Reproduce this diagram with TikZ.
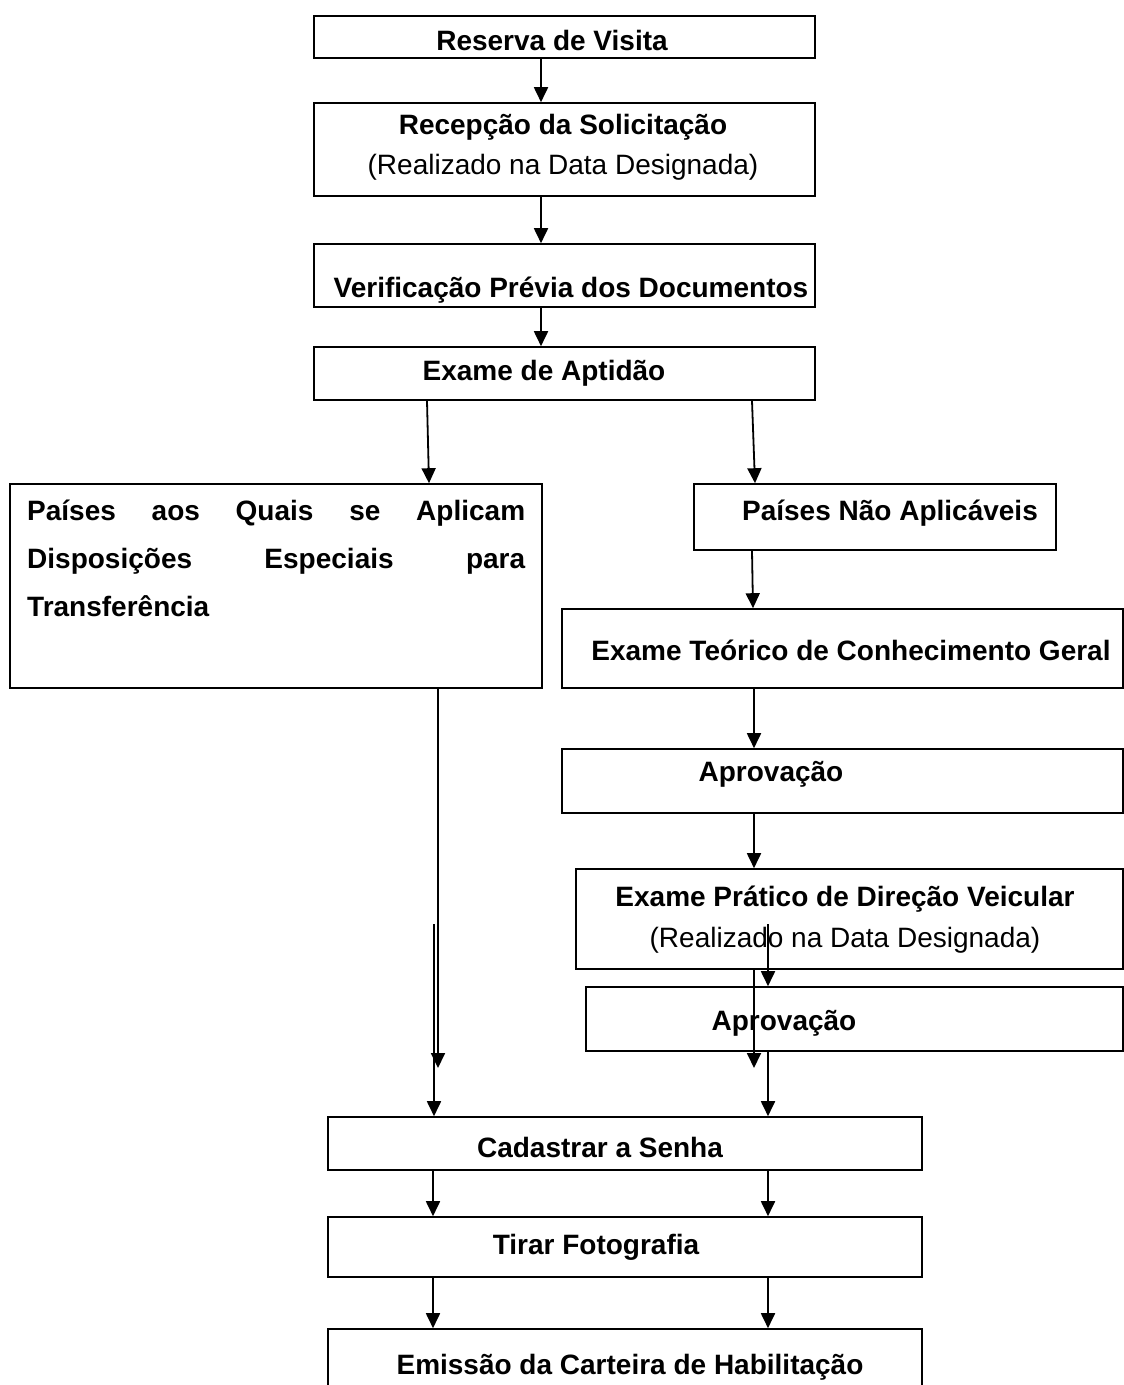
\documentclass[tikz,border=0pt]{standalone}
\usepackage{fontspec}
\setmainfont{Liberation Sans}
\usetikzlibrary{arrows.meta}
\tikzstyle{box} = [rectangle, draw=black, line width=1.6pt, inner sep=0pt]
\tikzstyle{txt} = [font=\fontsize{28}{34}\selectfont\bfseries, inner sep=0pt]
\tikzstyle{note} = [font=\fontsize{28}{34}\selectfont, inner sep=0pt]
\tikzstyle{arrow} = [line width=1.8pt, -{Triangle[length=15pt,width=14pt]}]

\begin{document}
\begin{tikzpicture}[x=1pt, y=-1pt]

		\clip (0,0) rectangle (1124,1385);

		% boxes
		\node (reserva) [box, minimum width=501pt, minimum height=42pt] at (564.5,37) {};
		\node (recepcao) [box, minimum width=501pt, minimum height=93pt] at (564.5,149.5) {};
		\node (verif) [box, minimum width=501pt, minimum height=63pt] at (564.5,275.5) {};
		\node (aptidao) [box, minimum width=501pt, minimum height=53pt] at (564.5,373.5) {};
		\node (especial) [box, minimum width=532pt, minimum height=204pt] at (276,586) {};
		\node (naoaplic) [box, minimum width=362pt, minimum height=66pt] at (875,517) {};
		\node (teorico) [box, minimum width=561pt, minimum height=79pt] at (842.5,648.5) {};
		\node (aprov1) [box, minimum width=561pt, minimum height=64pt] at (842.5,781) {};
		\node (pratico) [box, minimum width=547pt, minimum height=100pt] at (849.5,919) {};
		\node (aprov2) [box, minimum width=537pt, minimum height=64pt] at (854.5,1019) {};
		\node (senha) [box, minimum width=594pt, minimum height=53pt] at (625,1143.5) {};
		\node (foto) [box, minimum width=594pt, minimum height=60pt] at (625,1247) {};
		\node (emissao) [box, minimum width=594pt, minimum height=71pt] at (625,1364.5) {};

		% texts
		\node (reservaTxt) [txt] at (552,40) {Reserva de Visita};
		\node (recepcaoTxt) [txt, align=center, font=\fontsize{28}{40}\selectfont] at (563,147) {\textbf{Recepção da Solicitação}\\(Realizado na Data Designada)};
		\node (verifTxt) [txt] at (571,290) {Verificação Prévia dos Documentos};
		\node (aptidaoTxt) [txt] at (544,373) {Exame de Aptidão};
		\node (especialTxt) [txt, align=left, font=\fontsize{28}{48}\selectfont\bfseries, anchor=north west] at (27,500) {\makebox[498pt][s]{Países aos Quais se Aplicam}\\\makebox[498pt][s]{Disposições Especiais para}\\Transferência};
		\node (naoaplicTxt) [txt] at (890,513) {Países Não Aplicáveis};
		\node (teoricoTxt) [txt] at (851,650) {Exame Teórico de Conhecimento Geral};
		\node (aprov1Txt) [txt] at (771,774) {Aprovação};
		\node (praticoTxt) [txt, align=center, font=\fontsize{28}{41}\selectfont] at (845,920) {\textbf{Exame Prático de Direção Veicular}\\(Realizado na Data Designada)};
		\node (aprov2Txt) [txt] at (784,1023) {Aprovação};
		\node (senhaTxt) [txt] at (600,1147) {Cadastrar a Senha};
		\node (fotoTxt) [txt] at (596,1247) {Tirar Fotografia};
		\node (emissaoTxt) [txt] at (630,1367) {Emissão da Carteira de Habilitação};

		% loose ends
		\coordinate (strayL) at (434,924);
		\coordinate (strayR) at (768,924);
		\coordinate (tipL) at (438,1068);
		\coordinate (tipR) at (754,1068);

		\draw [arrow] ([xshift=-23.5pt]reserva.south) -- ([xshift=-23.5pt]recepcao.north);
		\draw [arrow] ([xshift=-23.5pt]recepcao.south) -- ([xshift=-23.5pt]verif.north);
		\draw [arrow] ([xshift=-23.5pt]verif.south) -- ([xshift=-23.5pt]aptidao.north);
		\draw [arrow] ([xshift=-137.5pt]aptidao.south) -- ([xshift=153pt]especial.north);
		\draw [arrow] ([xshift=187.5pt]aptidao.south) -- ([xshift=-120pt]naoaplic.north);
		\draw [arrow] ([xshift=-123pt]naoaplic.south) -- ([xshift=-89.5pt]teorico.north);
		\draw [arrow] ([xshift=-88.5pt]teorico.south) -- ([xshift=-88.5pt]aprov1.north);
		\draw [arrow] ([xshift=-88.5pt]aprov1.south) -- ([xshift=-95.5pt]pratico.north);
		\draw [arrow] (strayR) -- (strayR |- aprov2.north);
		\draw [arrow] ([xshift=-95.5pt]pratico.south) -- (tipR);
		\draw [arrow] ([xshift=-86.5pt]aprov2.south) -- ([xshift=143pt]senha.north);
		\draw [arrow] ([xshift=162pt]especial.south) -- (tipL);
		\draw [arrow] (strayL) -- (strayL |- senha.north);
		\draw [arrow] ([xshift=-192pt]senha.south) -- ([xshift=-192pt]foto.north);
		\draw [arrow] ([xshift=143pt]senha.south) -- ([xshift=143pt]foto.north);
		\draw [arrow] ([xshift=-192pt]foto.south) -- ([xshift=-192pt]emissao.north);
		\draw [arrow] ([xshift=143pt]foto.south) -- ([xshift=143pt]emissao.north);

\end{tikzpicture}
\end{document}
